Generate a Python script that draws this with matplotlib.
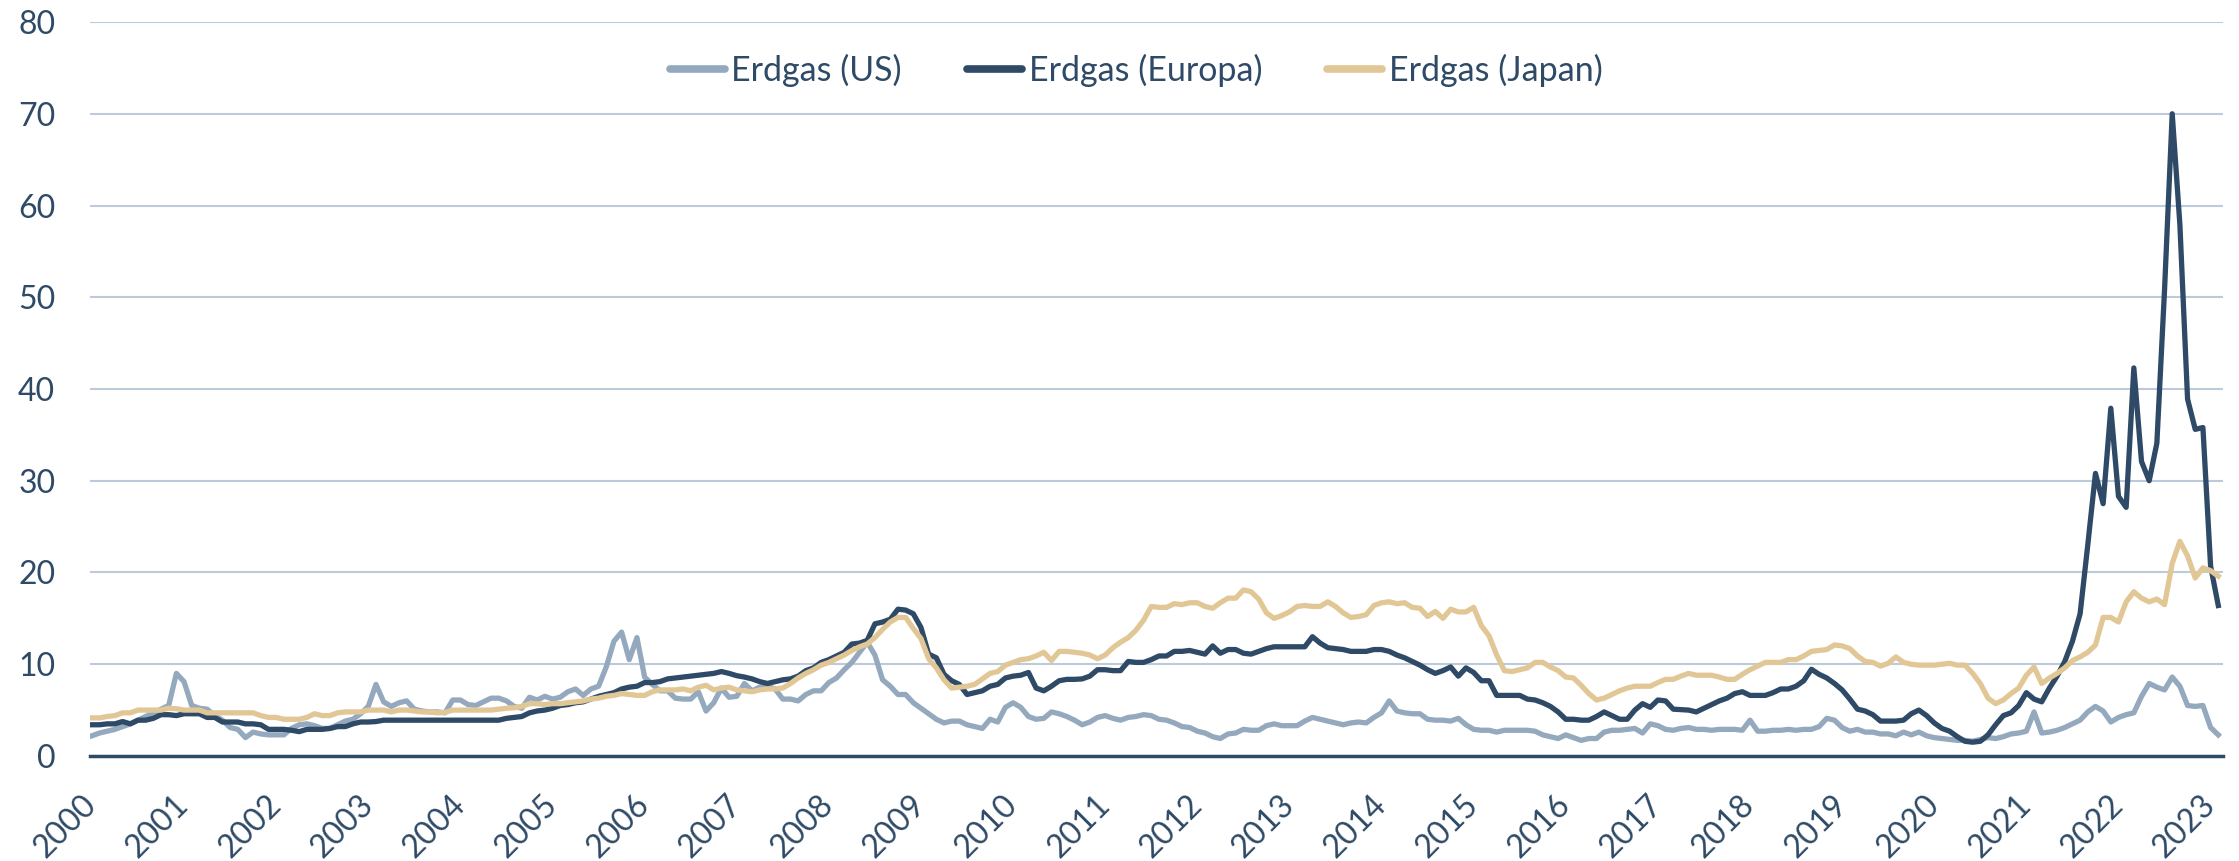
import numpy as np
import matplotlib
matplotlib.use('Agg')
import matplotlib.pyplot as plt

plt.rcParams['font.family'] = ['Lato', 'DejaVu Sans']

# monthly prices, Jan 2000 - Feb 2023 (one year per row)
us = [
    2.2, 2.5, 2.7, 2.9, 3.2, 3.5, 3.9, 4.3, 4.7, 5.1, 5.5, 9.0,
    8.1, 5.5, 5.2, 5.1, 4.4, 3.9, 3.1, 2.9, 2.0, 2.6, 2.4, 2.3,
    2.3, 2.3, 3.0, 3.4, 3.5, 3.3, 3.0, 3.0, 3.4, 3.8, 4.0, 4.6,
    5.4, 7.8, 5.9, 5.4, 5.8, 6.0, 5.1, 4.9, 4.8, 4.8, 4.7, 6.1,
    6.1, 5.6, 5.5, 5.9, 6.3, 6.3, 6.0, 5.4, 5.2, 6.4, 6.1, 6.5,
    6.2, 6.4, 7.0, 7.3, 6.6, 7.3, 7.6, 9.7, 12.5, 13.5, 10.5, 12.9,
    8.6, 7.8, 7.1, 7.1, 6.3, 6.2, 6.2, 7.0, 4.9, 5.8, 7.4, 6.4,
    6.5, 7.9, 7.1, 7.5, 7.6, 7.3, 6.2, 6.2, 6.0, 6.7, 7.1, 7.1,
    8.0, 8.5, 9.4, 10.2, 11.3, 12.4, 11.0, 8.3, 7.6, 6.7, 6.7, 5.8,
    5.2, 4.6, 4.0, 3.6, 3.8, 3.8, 3.4, 3.2, 3.0, 4.0, 3.7, 5.3,
    5.8, 5.3, 4.3, 4.0, 4.1, 4.8, 4.6, 4.3, 3.9, 3.4, 3.7, 4.2,
    4.4, 4.1, 3.9, 4.2, 4.3, 4.5, 4.4, 4.0, 3.9, 3.6, 3.2, 3.1,
    2.7, 2.5, 2.1, 1.9, 2.4, 2.5, 2.9, 2.8, 2.8, 3.3, 3.5, 3.3,
    3.3, 3.3, 3.8, 4.2, 4.0, 3.8, 3.6, 3.4, 3.6, 3.7, 3.6, 4.2,
    4.7, 6.0, 4.9, 4.7, 4.6, 4.6, 4.0, 3.9, 3.9, 3.8, 4.1, 3.4,
    2.9, 2.8, 2.8, 2.6, 2.8, 2.8, 2.8, 2.8, 2.7, 2.3, 2.1, 1.9,
    2.3, 2.0, 1.7, 1.9, 1.9, 2.6, 2.8, 2.8, 2.9, 3.0, 2.5, 3.5,
    3.3, 2.9, 2.8, 3.0, 3.1, 2.9, 2.9, 2.8, 2.9, 2.9, 2.9, 2.8,
    3.9, 2.7, 2.7, 2.8, 2.8, 2.9, 2.8, 2.9, 2.9, 3.2, 4.1, 3.9,
    3.1, 2.7, 2.9, 2.6, 2.6, 2.4, 2.4, 2.2, 2.6, 2.3, 2.6, 2.2,
    2.0, 1.9, 1.8, 1.7, 1.7, 1.6, 1.8, 2.0, 1.9, 2.1, 2.4, 2.5,
    2.7, 4.8, 2.5, 2.6, 2.8, 3.1, 3.5, 3.9, 4.8, 5.4, 4.9, 3.7,
    4.2, 4.5, 4.7, 6.5, 7.9, 7.5, 7.2, 8.6, 7.6, 5.5, 5.4, 5.5,
    3.1, 2.3,
]

europa = [
    3.4, 3.4, 3.5, 3.5, 3.75, 3.5, 3.9, 3.9, 4.1, 4.5, 4.5, 4.4,
    4.6, 4.6, 4.6, 4.2, 4.2, 3.7, 3.7, 3.7, 3.5, 3.5, 3.4, 2.9,
    2.9, 2.9, 2.8, 2.65, 2.9, 2.9, 2.9, 3.0, 3.2, 3.2, 3.5, 3.7,
    3.7, 3.75, 3.9, 3.9, 3.9, 3.9, 3.9, 3.9, 3.9, 3.9, 3.9, 3.9,
    3.9, 3.9, 3.9, 3.9, 3.9, 3.9, 4.1, 4.2, 4.3, 4.7, 4.9, 5.0,
    5.2, 5.5, 5.6, 5.8, 5.9, 6.2, 6.5, 6.7, 6.9, 7.3, 7.5, 7.6,
    8.0, 8.0, 8.1, 8.4, 8.5, 8.6, 8.7, 8.8, 8.9, 9.0, 9.2, 9.0,
    8.75, 8.6, 8.4, 8.1, 7.9, 8.1, 8.3, 8.4, 8.7, 9.3, 9.6, 10.2,
    10.5, 10.9, 11.3, 12.2, 12.3, 12.6, 14.4, 14.6, 14.9, 16.0, 15.9, 15.5,
    14.0, 11.1, 10.7, 8.9, 8.2, 7.8, 6.7, 6.9, 7.1, 7.6, 7.8, 8.5,
    8.7, 8.8, 9.1, 7.4, 7.1, 7.6, 8.2, 8.35, 8.35, 8.4, 8.7, 9.4,
    9.4, 9.3, 9.3, 10.3, 10.2, 10.2, 10.5, 10.9, 10.9, 11.4, 11.4, 11.5,
    11.3, 11.1, 12.0, 11.2, 11.6, 11.6, 11.2, 11.1, 11.4, 11.7, 11.9, 11.9,
    11.9, 11.9, 11.9, 13.0, 12.3, 11.8, 11.7, 11.6, 11.4, 11.4, 11.4, 11.6,
    11.6, 11.4, 11.0, 10.7, 10.3, 9.9, 9.4, 9.0, 9.3, 9.7, 8.7, 9.6,
    9.1, 8.2, 8.2, 6.6, 6.6, 6.6, 6.6, 6.2, 6.1, 5.8, 5.4, 4.8,
    4.0, 4.0, 3.9, 3.9, 4.3, 4.8, 4.4, 4.0, 4.0, 5.0, 5.7, 5.3,
    6.1, 6.0, 5.1, 5.05, 5.0, 4.8, 5.2, 5.6, 6.0, 6.3, 6.8, 7.0,
    6.6, 6.6, 6.6, 6.9, 7.3, 7.3, 7.6, 8.2, 9.45, 8.9, 8.5, 7.9,
    7.2, 6.2, 5.1, 4.9, 4.5, 3.8, 3.8, 3.8, 3.9, 4.6, 5.0, 4.4,
    3.6, 3.0, 2.7, 2.1, 1.6, 1.5, 1.6, 2.3, 3.4, 4.4, 4.7, 5.5,
    6.9, 6.2, 5.9, 7.4, 8.7, 10.3, 12.5, 15.5, 23.0, 30.8, 27.5, 37.9,
    28.3, 27.1, 42.3, 32.1, 30.0, 34.1, 50.8, 70.0, 57.9, 38.9, 35.6, 35.8,
    20.7, 16.4,
]

japan = [
    4.15, 4.15, 4.3, 4.4, 4.7, 4.7, 5.0, 5.0, 5.0, 5.0, 5.2, 5.15,
    5.0, 5.0, 5.0, 4.7, 4.7, 4.7, 4.7, 4.7, 4.7, 4.7, 4.4, 4.2,
    4.2, 4.0, 4.0, 4.0, 4.2, 4.6, 4.4, 4.4, 4.7, 4.8, 4.8, 4.8,
    5.0, 5.0, 5.0, 4.8, 5.0, 5.0, 4.9, 4.8, 4.8, 4.7, 4.75, 5.0,
    5.0, 5.0, 5.0, 5.0, 5.0, 5.1, 5.2, 5.25, 5.4, 5.7, 5.7, 5.6,
    5.7, 5.7, 5.8, 5.9, 6.0, 6.2, 6.3, 6.5, 6.6, 6.8, 6.7, 6.6,
    6.6, 7.0, 7.2, 7.2, 7.2, 7.3, 7.1, 7.5, 7.7, 7.2, 7.4, 7.5,
    7.2, 7.1, 7.0, 7.2, 7.3, 7.3, 7.4, 7.9, 8.5, 9.0, 9.4, 9.9,
    10.2, 10.6, 11.0, 11.5, 11.9, 12.2, 12.9, 13.8, 14.6, 15.1, 15.1, 13.9,
    12.8, 10.6, 9.6, 8.3, 7.4, 7.5, 7.6, 7.8, 8.4, 9.0, 9.2, 9.9,
    10.2, 10.5, 10.6, 10.9, 11.3, 10.4, 11.4, 11.4, 11.3, 11.2, 11.0, 10.6,
    11.0, 11.8, 12.4, 12.9, 13.7, 14.8, 16.3, 16.2, 16.2, 16.6, 16.5, 16.7,
    16.7, 16.3, 16.1, 16.7, 17.2, 17.2, 18.1, 17.9, 17.1, 15.6, 15.0, 15.3,
    15.7, 16.3, 16.4, 16.3, 16.3, 16.8, 16.3, 15.6, 15.1, 15.2, 15.4, 16.4,
    16.7, 16.8, 16.6, 16.7, 16.2, 16.1, 15.2, 15.75, 15.0, 16.0, 15.7, 15.7,
    16.2, 14.2, 13.1, 11.0, 9.3, 9.2, 9.4, 9.6, 10.2, 10.2, 9.7, 9.3,
    8.6, 8.5, 7.7, 6.8, 6.1, 6.3, 6.7, 7.1, 7.4, 7.6, 7.6, 7.6,
    8.0, 8.35, 8.35, 8.7, 9.0, 8.8, 8.8, 8.8, 8.6, 8.35, 8.35, 8.9,
    9.4, 9.8, 10.2, 10.2, 10.2, 10.5, 10.5, 10.9, 11.4, 11.5, 11.6, 12.1,
    12.0, 11.7, 10.9, 10.3, 10.2, 9.8, 10.1, 10.8, 10.2, 10.0, 9.9, 9.9,
    9.9, 10.0, 10.1, 9.9, 9.9, 9.0, 7.9, 6.3, 5.7, 6.1, 6.8, 7.4,
    8.8, 9.7, 7.9, 8.5, 9.0, 9.6, 10.4, 10.8, 11.3, 12.1, 15.1, 15.1,
    14.6, 16.8, 17.9, 17.2, 16.8, 17.1, 16.5, 21.0, 23.4, 21.8, 19.4, 20.5,
    20.2, 19.6,
]

years = [str(y) for y in range(2000, 2024)]

navy = '#2e4a66'
x = np.arange(len(us))

fig = plt.figure(figsize=(22.39, 8.61), dpi=100)
ax = fig.add_axes([0.0402, 0.122, 0.9526, 0.8524])

ax.plot(x, us, color='#94a9bd', lw=3.8, label='Erdgas (US)', solid_joinstyle='round')
ax.plot(x, europa, color=navy, lw=3.8, label='Erdgas (Europa)', solid_joinstyle='round')
ax.plot(x, japan, color='#e2c796', lw=3.8, label='Erdgas (Japan)', solid_joinstyle='round')

ax.set_xlim(-0.25, len(us) - 0.4)
ax.set_ylim(0, 80)
ax.set_yticks(range(0, 81, 10))
ax.set_xticks(range(0, len(us), 12))
ax.set_xticklabels(years, rotation=45, ha='right', va='center', rotation_mode='anchor')

ax.grid(axis='y', color='#bccbdb', lw=1.5)
ax.set_axisbelow(True)
for s in ['top', 'right', 'left']:
    ax.spines[s].set_visible(False)
ax.spines['bottom'].set_color(navy)
ax.spines['bottom'].set_linewidth(2.5)
ax.spines['bottom'].set_zorder(5)

ax.tick_params(axis='both', length=0, labelsize=23, labelcolor=navy)
ax.tick_params(axis='y', pad=25)
ax.tick_params(axis='x', pad=32)

leg = ax.legend(loc='center', bbox_to_anchor=(0.4904, 0.9346), ncol=3, frameon=False,
                fontsize=24.5, handlelength=1.62, handletextpad=0.2, columnspacing=1.9,
                labelcolor=navy)
for line in leg.get_lines():
    line.set_linewidth(5.5)
    line.set_solid_capstyle('round')

plt.savefig('out.png', dpi=100)
